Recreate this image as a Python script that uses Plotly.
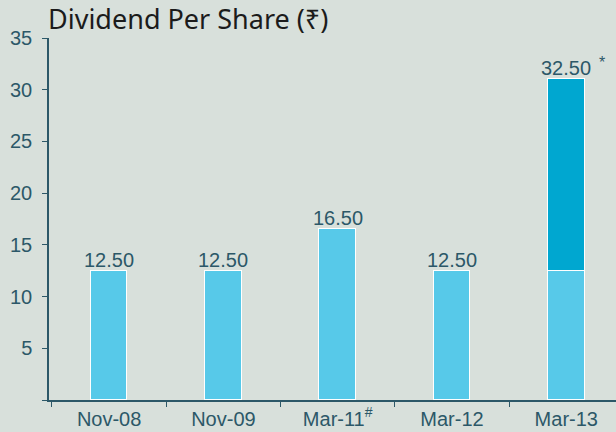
import plotly.graph_objects as go

categories = ["Nov-08", "Nov-09", "Mar-11<sup>#</sup>", "Mar-12", "Mar-13"]
base_values = [12.5, 12.5, 16.5, 12.5, 12.5]
extra_values = [0, 0, 0, 0, 18.5]
bar_labels = ["12.50", "12.50", "16.50", "12.50", "32.50"]
label_heights = [12.5, 12.5, 16.5, 12.5, 31.0]
y_ticks = [0, 5, 10, 15, 20, 25, 30, 35]
y_ticktext = [" ", "5", "10", "15", "20", "25", "30", "35"]

bg = "#d8e0db"
axis_col = "#2c5868"
font_fam = "Liberation Sans, Arial, sans-serif"

fig = go.Figure()
fig.add_trace(go.Bar(x=categories, y=base_values, width=0.32,
                     marker=dict(color="#57c9e9", line=dict(color="white", width=1))))
fig.add_trace(go.Bar(x=categories, y=extra_values, width=0.32,
                     marker=dict(color="#00a7d0", line=dict(color="white", width=1))))

for c, t, h in zip(categories, bar_labels, label_heights):
    fig.add_annotation(x=c, y=h, text=t, showarrow=False, yanchor="bottom",
                       yshift=-2, font=dict(size=20, color=axis_col, family=font_fam))
fig.add_annotation(x=categories[4], y=label_heights[4], text="*", showarrow=False,
                   yanchor="bottom", xshift=36, yshift=6,
                   font=dict(size=16, color=axis_col, family=font_fam))

fig.add_annotation(xref="paper", yref="paper", x=-0.006, y=1.0, yshift=20,
                   xanchor="left", yanchor="middle", showarrow=False,
                   text="Dividend Per Share (₹)",
                   font=dict(size=27, color="#1b1b1b", family="Noto Sans, DejaVu Sans, sans-serif"))

fig.update_layout(
    width=616, height=432, barmode="stack", showlegend=False,
    paper_bgcolor=bg, plot_bgcolor=bg,
    margin=dict(l=49, r=0, t=38, b=32),
    bargap=0,
)
fig.update_xaxes(type="category", range=[-0.526, 4.435], showline=True, linecolor=axis_col,
                 linewidth=1.5, ticks="outside", tickson="boundaries", ticklen=5,
                 tickcolor=axis_col, showgrid=False, zeroline=False,
                 tickfont=dict(size=20, color=axis_col, family=font_fam))
fig.update_yaxes(range=[0, 35], tickvals=y_ticks, ticktext=y_ticktext, showline=True,
                 linecolor=axis_col, linewidth=1.5, ticks="outside", ticklen=5,
                 ticklabelstandoff=6,
                 tickcolor=axis_col, showgrid=False, zeroline=False,
                 tickfont=dict(size=20, color=axis_col, family=font_fam))

fig.write_html("out.html", config={"displayModeBar": False},
               post_script="document.body.style.margin='0';document.body.style.background='#d8e0db';")
